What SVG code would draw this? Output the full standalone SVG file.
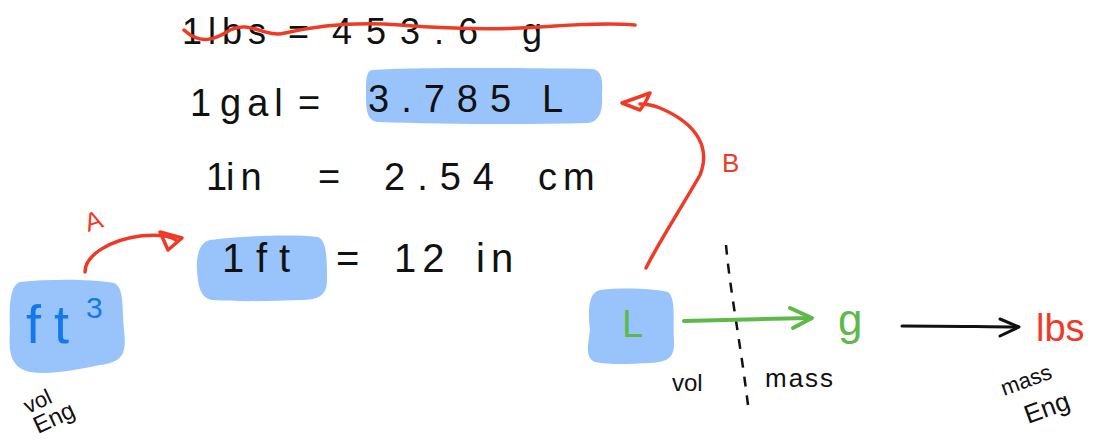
<svg xmlns="http://www.w3.org/2000/svg" width="1120" height="441" viewBox="0 0 1120 441">
<defs>
<style>
.t{font-family:"Liberation Sans",Arial,sans-serif;fill:#111;}
.hl{fill:#99c4fb;}
.red{stroke:#ee3a26;fill:none;stroke-width:3.5;stroke-linecap:round;stroke-linejoin:round;}
.grn{stroke:#5fb94a;fill:none;stroke-width:4;stroke-linecap:round;stroke-linejoin:round;}
.blk{stroke:#111;fill:none;stroke-width:3;stroke-linecap:round;stroke-linejoin:round;}
.sp{letter-spacing:6px;}
</style>
</defs>
<rect width="1120" height="441" fill="#fff"/>

<g id="eq1">
<text class="t" y="44" font-size="36"><tspan x="182" class="sp">1lbs</tspan><tspan x="288">=</tspan><tspan x="332" letter-spacing="14">453.6</tspan><tspan x="522">g</tspan></text>
<path class="red" d="M184,30 C200,45 215,40 230,30 C250,20 265,38 285,33 C320,25 360,22 400,25 C440,28 480,30 520,28 C560,26 600,22 635,25"/>
</g>

<g id="eq2">
<path class="hl" d="M372,70 C420,67 520,68 592,69 C602,70 603,80 602,95 C603,110 600,122 588,123 C520,125 440,124 378,122 C367,121 366,110 366,95 C366,80 366,71 372,70 Z"/>
<text class="t" y="116" font-size="38"><tspan x="190">1</tspan><tspan x="220" class="sp">gal</tspan><tspan x="298">=</tspan></text>
<text class="t" y="112" font-size="38"><tspan x="368" letter-spacing="12">3.785</tspan><tspan x="542">L</tspan></text>
</g>

<g id="eq3">
<text class="t" y="190" font-size="38"><tspan x="206">1</tspan><tspan x="226" class="sp">in</tspan><tspan x="318">=</tspan><tspan x="384" letter-spacing="12">2.54</tspan><tspan x="538" class="sp">cm</tspan></text>
</g>

<g id="eq4">
<path class="hl" d="M210,240 C240,236 290,234 318,237 C327,240 327,260 327,280 C327,296 318,300 300,300 C270,301 240,302 212,300 C200,298 198,285 197,270 C196,255 200,242 210,240 Z"/>
<text class="t" y="272" font-size="40"><tspan x="222">1</tspan><tspan x="256" letter-spacing="12">ft</tspan><tspan x="336">=</tspan><tspan x="394" letter-spacing="6">12</tspan><tspan x="476" class="sp">in</tspan></text>
</g>

<g id="ft3">
<path class="hl" d="M20,282 C50,279 90,279 114,283 C124,287 122,305 124,330 C127,355 122,362 100,365 C75,370 50,375 30,372 C12,368 8,355 10,330 C9,305 10,285 20,282 Z"/>
<text y="343" font-size="54" font-family="Liberation Sans,Arial,sans-serif" fill="#1577ec"><tspan x="26">f</tspan><tspan x="54">t</tspan></text>
<text x="86" y="318" font-size="30" font-family="Liberation Sans,Arial,sans-serif" fill="#1577ec">3</text>
<text class="t" font-size="22" transform="translate(28,414) rotate(-25)">vol</text>
<text class="t" font-size="24" transform="translate(38,434) rotate(-25)">Eng</text>
</g>

<g id="Lnode">
<path class="hl" d="M600,290 C625,287 655,289 668,292 C676,298 673,320 674,340 C675,358 668,362 650,363 C630,364 610,365 595,362 C585,358 588,345 590,330 C588,310 588,293 600,290 Z"/>
<text x="622" y="337" font-size="38" font-family="Liberation Sans,Arial,sans-serif" fill="#5fb94a">L</text>
</g>

<g id="gnode">
<text x="838" y="335" font-size="44" font-family="Liberation Sans,Arial,sans-serif" fill="#5fb94a">g</text>
</g>

<g id="lbsnode">
<text x="1036" y="341" font-size="38" font-family="Liberation Sans,Arial,sans-serif" fill="#ee3a26">lbs</text>
<text class="t" font-size="22" transform="translate(1004,396) rotate(-20)">mass</text>
<text class="t" font-size="26" transform="translate(1028,424) rotate(-20)">Eng</text>
</g>

<g id="divider">
<path d="M726,245 C730,290 740,340 748,405" stroke="#111" stroke-width="2.5" fill="none" stroke-dasharray="10,9"/>
<text class="t" x="672" y="391" font-size="24">vol</text>
<text class="t" x="765" y="387" font-size="26" letter-spacing="2">mass</text>
</g>

<g id="connectors">
<path class="red" d="M85,272 C85,255 110,240 140,236 C160,234 170,236 176,240"/>
<path class="red" d="M160,232 L182,238 L168,250 Z"/>
<text font-family="Liberation Sans,Arial,sans-serif" font-size="26" fill="#ee3a26" transform="translate(88,232) rotate(-18)">A</text>

<path class="red" d="M646,268 C660,240 680,210 700,175 C710,150 700,125 660,108 C650,104 645,104 640,104"/>
<path class="red" d="M622,103 L650,93 L645,103 L640,110 Z"/>
<text font-family="Liberation Sans,Arial,sans-serif" font-size="26" fill="#ee3a26" x="722" y="172">B</text>

<path class="grn" d="M684,321 C720,320 770,319 810,318"/>
<path class="grn" d="M790,308 L812,318 L793,328"/>

<path class="blk" d="M902,326 C950,326 990,327 1018,327"/>
<path class="blk" d="M1000,319 L1019,327 L1000,336"/>
</g>
</svg>
